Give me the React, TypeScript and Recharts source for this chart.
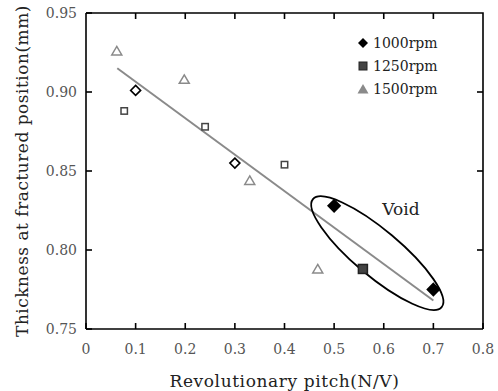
import React from "react"
import {
  ScatterChart,
  Scatter,
  XAxis,
  YAxis,
  Legend,
  Label,
  ReferenceDot,
} from "recharts"

const pitch1000 = [0.1, 0.3, 0.5, 0.7]
const thick1000 = [0.901, 0.855, 0.828, 0.775]
const void1000 = [false, false, true, true]

const pitch1250 = [0.077, 0.24, 0.4, 0.558]
const thick1250 = [0.888, 0.878, 0.854, 0.788]
const void1250 = [false, false, false, true]

const pitch1500 = [0.062, 0.198, 0.33, 0.467]
const thick1500 = [0.926, 0.908, 0.844, 0.788]
const void1500 = [false, false, false, false]

const trendPitch = [0.063, 0.7]
const trendThick = [0.915, 0.768]

const seriesNames = ["1000rpm", "1250rpm", "1500rpm"]
const xTicks = [0, 0.1, 0.2, 0.3, 0.4, 0.5, 0.6, 0.7, 0.8]
const yTicks = [0.75, 0.8, 0.85, 0.9, 0.95]
const voidCenter = { x: 0.587, y: 0.798 }
const voidLabelAt = { x: 0.597, y: 0.822 }

const toRows = (xs: number[], ys: number[], filled: boolean[]) =>
  xs.map((x, i) => ({ x, y: ys[i], filled: filled[i] }))

const rows1000 = toRows(pitch1000, thick1000, void1000)
const rows1250 = toRows(pitch1250, thick1250, void1250)
const rows1500 = toRows(pitch1500, thick1500, void1500)
const trendRows = trendPitch.map((x, i) => ({ x, y: trendThick[i] }))

const xMin = xTicks[0]
const xMax = xTicks[xTicks.length - 1]
const yMin = yTicks[0]
const yMax = yTicks[yTicks.length - 1]

const FONT = "DejaVu Serif"
const TICK_LEN = 6

// chart layout
const W = 498
const H = 391
const MARGIN = { top: 13, right: 15, left: 0, bottom: 32 }
const Y_AXIS_W = 86
const X_AXIS_H = 30
const plotLeft = MARGIN.left + Y_AXIS_W
const plotRight = W - MARGIN.right
const plotTop = MARGIN.top
const plotBottom = H - MARGIN.bottom - X_AXIS_H

// top and right edges of the box, with mirrored inward ticks
const FrameOverlay = () => {
  const px = (v: number) => plotLeft + ((v - xMin) / (xMax - xMin)) * (plotRight - plotLeft)
  const py = (v: number) => plotTop + ((yMax - v) / (yMax - yMin)) * (plotBottom - plotTop)
  return (
    <svg
      width={W}
      height={H}
      style={{ position: "absolute", left: 0, top: 0, pointerEvents: "none" }}
    >
      <g stroke="#000" strokeWidth={1.6} fill="none">
        <path d={`M${plotLeft},${plotTop}H${plotRight}V${plotBottom}`} />
        {xTicks.slice(1, -1).map((t) => (
          <line key={"tx" + t} x1={px(t)} y1={plotTop} x2={px(t)} y2={plotTop + TICK_LEN} />
        ))}
        {yTicks.slice(1, -1).map((t) => (
          <line key={"ty" + t} x1={plotRight} y1={py(t)} x2={plotRight - TICK_LEN} y2={py(t)} />
        ))}
      </g>
    </svg>
  )
}

const Diamond = (props: any) => {
  const { cx, cy, payload } = props
  const f = payload && payload.filled
  const h = f ? 6 : 5
  return (
    <path
      d={`M${cx},${cy - h}L${cx + h},${cy}L${cx},${cy + h}L${cx - h},${cy}Z`}
      fill={f ? "#000" : "#fff"}
      stroke="#000"
      strokeWidth={1.6}
    />
  )
}

const Square = (props: any) => {
  const { cx, cy, payload } = props
  const f = payload && payload.filled
  const h = f ? 4.5 : 3.2
  return (
    <rect
      x={cx - h}
      y={cy - h}
      width={h * 2}
      height={h * 2}
      fill={f ? "#444" : "#fff"}
      stroke={f ? "#222" : "#444"}
      strokeWidth={1.5}
    />
  )
}

const Triangle = (props: any) => {
  const { cx, cy } = props
  return (
    <path
      d={`M${cx},${cy - 4.5}L${cx + 5},${cy + 4}L${cx - 5},${cy + 4}Z`}
      fill="#fff"
      stroke="#8a8a8a"
      strokeWidth={1.5}
    />
  )
}

const NoDot = () => <g />

const VoidEllipse = (props: any) => {
  const { cx, cy } = props
  return (
    <ellipse
      cx={cx}
      cy={cy}
      rx={84}
      ry={23}
      transform={`rotate(40 ${cx} ${cy})`}
      fill="none"
      stroke="#000"
      strokeWidth={1.8}
    />
  )
}

const VoidText = (props: any) => {
  const { cx, cy } = props
  return (
    <text x={cx} y={cy} fontFamily={FONT} fontSize={17} fill="#222">
      Void
    </text>
  )
}

const legendMarker = (i: number) => {
  if (i === 0) return <path d="M6,1L11,6L6,11L1,6Z" fill="#000" />
  if (i === 1) return <rect x={2} y={2} width={8} height={8} fill="#444" stroke="#222" strokeWidth={1} />
  return <path d="M6,1L11.5,10.5L0.5,10.5Z" fill="#8a8a8a" />
}

const LegendBox = () => (
  <div style={{ fontFamily: FONT, fontSize: 14, color: "#222" }}>
    {seriesNames.map((n, i) => (
      <div key={n} style={{ display: "flex", alignItems: "center", height: 23 }}>
        <svg width={12} height={12} style={{ marginRight: 4 }}>
          {legendMarker(i)}
        </svg>
        <span>{n}</span>
      </div>
    ))}
  </div>
)

export default function App() {
  const tickStyle = { fontFamily: FONT, fontSize: 14, fill: "#555" }
  const axisStroke = { stroke: "#000", strokeWidth: 1.6 }
  return (
    <div style={{ position: "absolute", left: 0, top: 0, width: W, height: H, background: "#fff" }}>
      <ScatterChart width={W} height={H} margin={MARGIN}>
        <XAxis
          dataKey="x"
          type="number"
          domain={[xMin, xMax]}
          ticks={xTicks}
          tickFormatter={(v: number) => (v === 0 ? "0" : v.toFixed(1))}
          tick={tickStyle}
          tickSize={-TICK_LEN}
          tickMargin={21}
          height={X_AXIS_H}
          axisLine={axisStroke}
          tickLine={axisStroke}
        >
          <Label
            value="Revolutionary pitch(N/V)"
            position="insideBottom"
            offset={-28}
            style={{ fontFamily: FONT, fontSize: 17, fill: "#222", letterSpacing: 0.6 }}
          />
        </XAxis>
        <YAxis
          dataKey="y"
          type="number"
          domain={[yMin, yMax]}
          ticks={yTicks}
          tickFormatter={(v: number) => v.toFixed(2)}
          tick={tickStyle}
          tickSize={-TICK_LEN}
          tickMargin={15}
          width={Y_AXIS_W}
          axisLine={axisStroke}
          tickLine={axisStroke}
        >
          <Label
            value="Thickness at fractured position(mm)"
            angle={-90}
            position="insideLeft"
            offset={22}
            style={{ fontFamily: FONT, fontSize: 17, fill: "#222", textAnchor: "middle", letterSpacing: 0.5 }}
          />
        </YAxis>
        <Legend
          layout="vertical"
          align="center"
          verticalAlign="middle"
          content={() => <LegendBox />}
          wrapperStyle={{ top: 31, left: 357, right: "auto", bottom: "auto", width: 120 }}
        />
        <Scatter
          name="trend"
          data={trendRows}
          line={{ stroke: "#8a8a8a", strokeWidth: 2 }}
          shape={NoDot}
          legendType="none"
          isAnimationActive={false}
        />
        <ReferenceDot x={voidCenter.x} y={voidCenter.y} r={1} shape={VoidEllipse} />
        <ReferenceDot x={voidLabelAt.x} y={voidLabelAt.y} r={1} shape={VoidText} />
        <Scatter name={seriesNames[0]} data={rows1000} shape={Diamond} isAnimationActive={false} />
        <Scatter name={seriesNames[1]} data={rows1250} shape={Square} isAnimationActive={false} />
        <Scatter name={seriesNames[2]} data={rows1500} shape={Triangle} isAnimationActive={false} />
      </ScatterChart>
      <FrameOverlay />
    </div>
  )
}
